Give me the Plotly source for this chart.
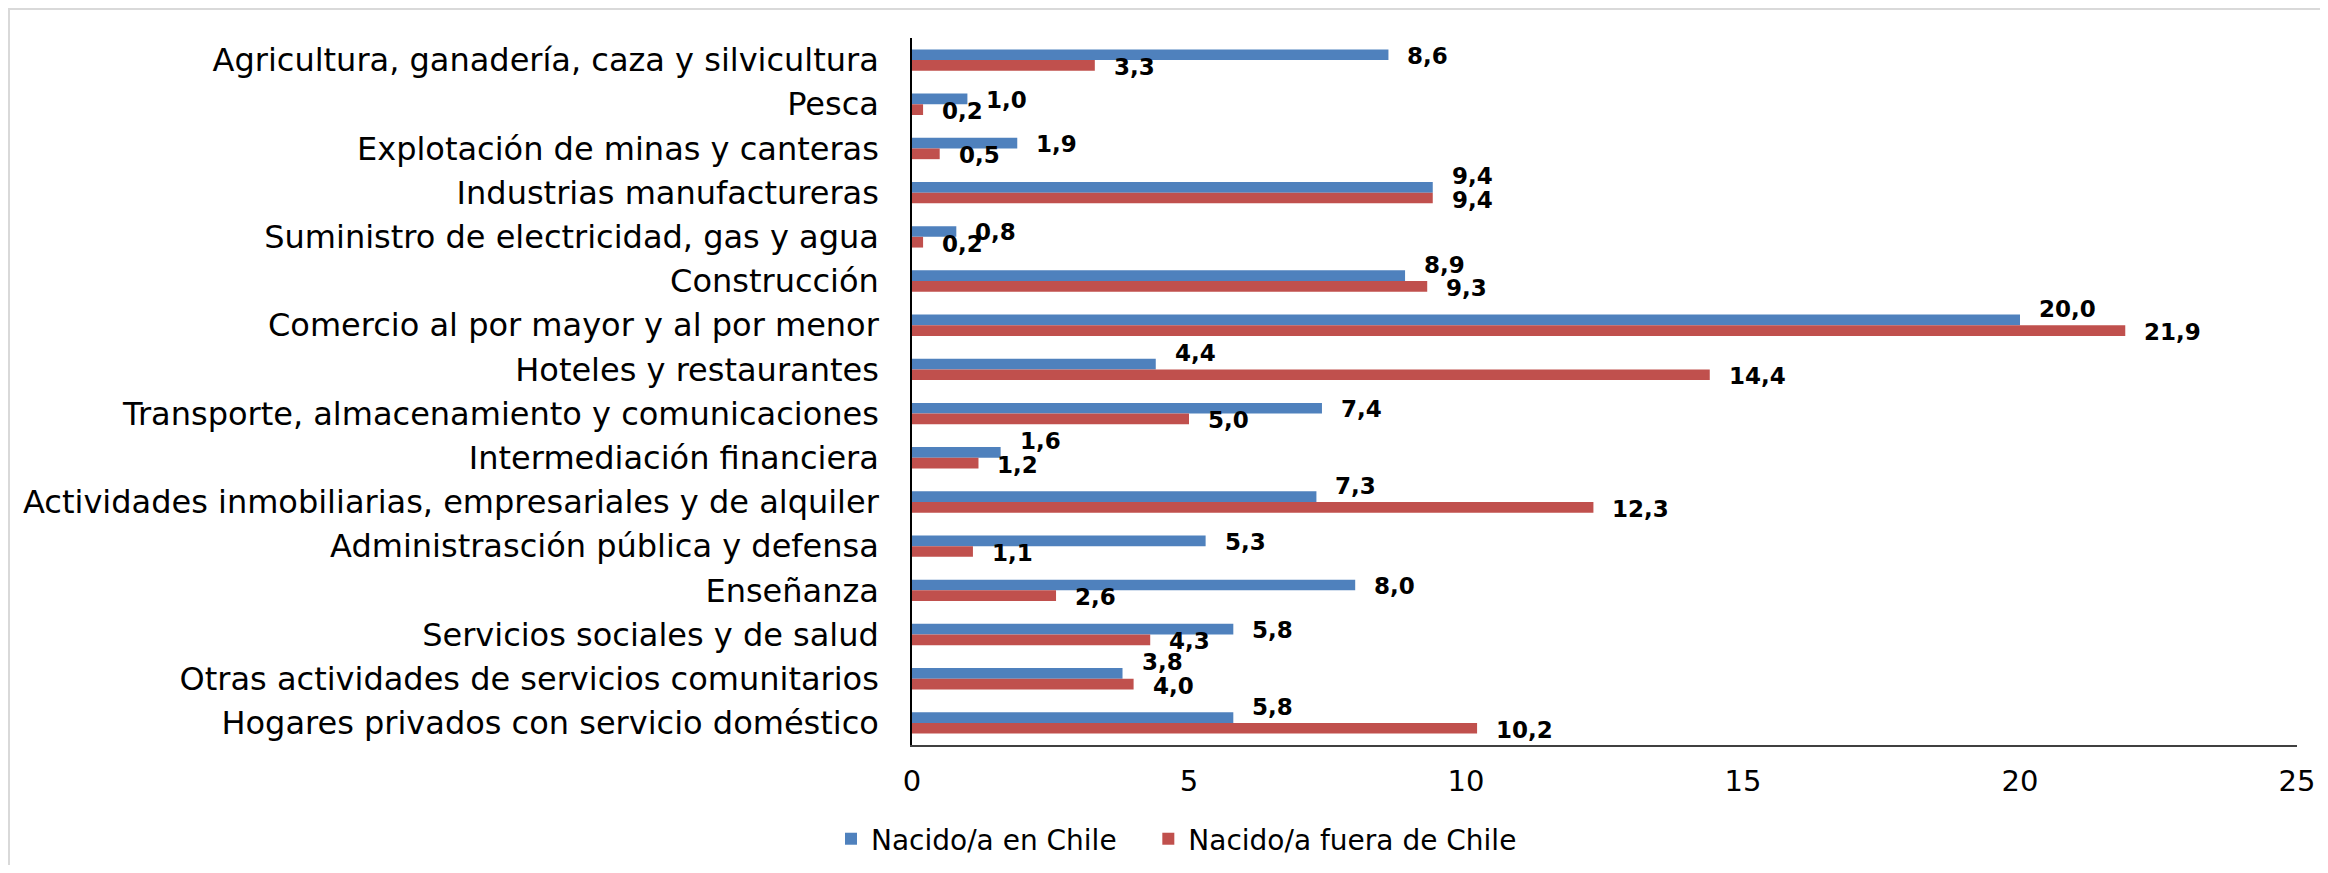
import plotly.graph_objects as go

categories = [
    "Agricultura, ganadería, caza y silvicultura",
    "Pesca",
    "Explotación de minas y canteras",
    "Industrias manufactureras",
    "Suministro de electricidad, gas y agua",
    "Construcción",
    "Comercio al por mayor y al por menor",
    "Hoteles y restaurantes",
    "Transporte, almacenamiento y comunicaciones",
    "Intermediación financiera",
    "Actividades inmobiliarias, empresariales y de alquiler",
    "Administrasción pública y defensa",
    "Enseñanza",
    "Servicios sociales y de salud",
    "Otras actividades de servicios comunitarios",
    "Hogares privados con servicio doméstico",
]
nacido_chile = [8.6, 1.0, 1.9, 9.4, 0.8, 8.9, 20.0, 4.4, 7.4, 1.6, 7.3, 5.3, 8.0, 5.8, 3.8, 5.8]
nacido_fuera = [3.3, 0.2, 0.5, 9.4, 0.2, 9.3, 21.9, 14.4, 5.0, 1.2, 12.3, 1.1, 2.6, 4.3, 4.0, 10.2]
series_names = ["Nacido/a en Chile", "Nacido/a fuera de Chile"]
x_ticks = [0, 5, 10, 15, 20, 25]

BLUE = "#4F81BD"
RED = "#C0504D"
FONT = "DejaVu Sans"

# page has an 8px body margin, so the figure is sized to fit inside the window
W, H = 2312, 857
ML, MR, MT, MB = 904, 23, 30, 120
plot_w = W - ML - MR
plot_h = H - MT - MB
slot = plot_h / len(categories)
bargap = 0.515
bar_px = slot * (1 - bargap) / 2


def fmt(v):
    return f"{v:.1f}".replace(".", ",")


fig = go.Figure()
fig.add_trace(go.Bar(
    y=categories, x=nacido_chile, name=series_names[0] + "\u00a0\u00a0\u00a0", orientation="h",
    marker=dict(color=BLUE, line=dict(width=0)), hoverinfo="x+y",
))
fig.add_trace(go.Bar(
    y=categories, x=nacido_fuera, name=series_names[1], orientation="h",
    marker=dict(color=RED, line=dict(width=0)), hoverinfo="x+y",
))

annotations = []
label_font = dict(family=FONT, size=23, color="black", weight="bold")
for cat, vc, vf in zip(categories, nacido_chile, nacido_fuera):
    raise_px = 12 if vf > vc - 0.5 else 0
    annotations.append(dict(
        x=vc, y=cat, xref="x", yref="y", text=fmt(vc), showarrow=False,
        xanchor="left", yanchor="middle", xshift=17,
        yshift=bar_px / 2 - 1 + raise_px, font=label_font,
    ))
    annotations.append(dict(
        x=vf, y=cat, xref="x", yref="y", text=fmt(vf), showarrow=False,
        xanchor="left", yanchor="middle", xshift=17,
        yshift=-bar_px / 2 - 1.5, font=label_font,
    ))

fig.update_layout(
    width=W, height=H,
    margin=dict(l=ML, r=MR, t=MT, b=MB, autoexpand=False),
    barmode="group", bargap=bargap, bargroupgap=0,
    plot_bgcolor="white", paper_bgcolor="white",
    font=dict(family=FONT, color="black"),
    showlegend=True,
    legend=dict(
        orientation="h", x=-0.0585, xanchor="left", y=-0.133, yanchor="middle",
        font=dict(family=FONT, size=28, color="black"),
        traceorder="normal", bgcolor="rgba(0,0,0,0)",
    ),
    annotations=annotations,
    shapes=[dict(
        type="rect", xref="paper", yref="paper",
        x0=(1 - ML) / plot_w, x1=1.1, y0=(H - MB - 1) / plot_h, y1=-0.3,
        line=dict(color="#D9D9D9", width=2), fillcolor="rgba(0,0,0,0)", layer="below",
    )],
)
fig.update_xaxes(
    range=[0, 25], tickvals=x_ticks, ticktext=[str(t) for t in x_ticks],
    showgrid=False, zeroline=False, showline=True, linecolor="#404040", linewidth=2,
    ticks="", tickfont=dict(family=FONT, size=29, color="black"), ticklabelstandoff=9,
)
fig.update_yaxes(
    categoryorder="array", categoryarray=categories,
    range=[len(categories) - 0.5, -0.5], autorange=False,
    showgrid=False, zeroline=False, showline=True, linecolor="black", linewidth=1.5,
    ticks="", tickfont=dict(family=FONT, size=32, color="black"), ticklabelstandoff=25,
)

fig.write_html("out.html")
